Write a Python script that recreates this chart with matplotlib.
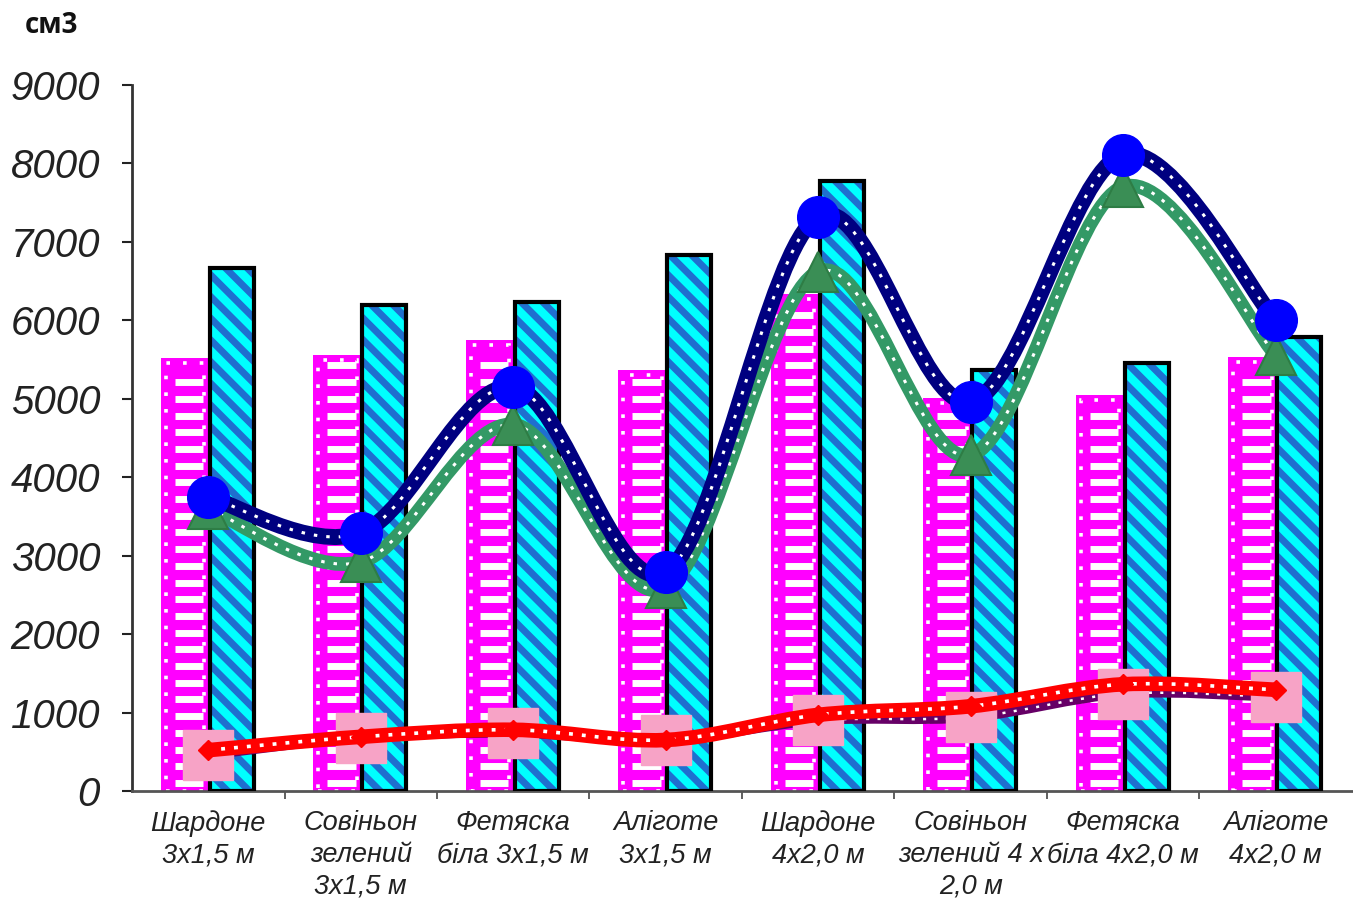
import numpy as np
import matplotlib
matplotlib.use("Agg")
import matplotlib.pyplot as plt
from matplotlib.path import Path
from matplotlib.patches import PathPatch, Rectangle
from matplotlib.collections import LineCollection

plt.rcParams['lines.scale_dashes'] = False

categories = [
    "Шардоне\n3x1,5 м",
    "Совіньон\nзелений\n3x1,5 м",
    "Фетяска\nбіла 3x1,5 м",
    "Аліготе\n3x1,5 м",
    "Шардоне\n4x2,0 м",
    "Совіньон\nзелений 4 x\n2,0 м",
    "Фетяска\nбіла 4x2,0 м",
    "Аліготе\n4x2,0 м",
]

bars_magenta = [5520, 5560, 5750, 5370, 6330, 5010, 5050, 5530]
bars_cyan = [6670, 6200, 6230, 6830, 7780, 5370, 5460, 5790]
line_blue = [3750, 3290, 5150, 2790, 7320, 4960, 8110, 6000]
line_green = [3600, 2920, 4670, 2590, 6620, 4280, 7700, 5560]
line_red = [520, 690, 780, 650, 970, 1080, 1360, 1290]
line_pink = [460, 680, 740, 650, 900, 940, 1240, 1200]

y_ticks = list(range(0, 9001, 1000))
unit_label = "см3"


def smooth_path(xs, ys):
    """Smoothed polyline through the points (cubic Bezier, Catmull-Rom style)."""
    pts = np.column_stack([xs, ys]).astype(float)
    n = len(pts)
    verts = [pts[0]]
    codes = [Path.MOVETO]
    for i in range(n - 1):
        p0 = pts[i - 1] if i > 0 else pts[i]
        p1 = pts[i]
        p2 = pts[i + 1]
        p3 = pts[i + 2] if i + 2 < n else pts[i + 1]
        c1 = p1 + (p2 - p0) / 6.0
        c2 = p2 - (p3 - p1) / 6.0
        verts += [c1, c2, p2]
        codes += [Path.CURVE4] * 3
    return Path(verts, codes)


def dotted_curve(ax, xs, ys, color, lw, z, dot_lw=2.2, dots=(0, (2.5, 6.5))):
    path = smooth_path(xs, ys)
    ax.add_patch(PathPatch(path, facecolor='none', edgecolor=color, lw=lw,
                           capstyle='round', joinstyle='round', zorder=z))
    ax.add_patch(PathPatch(path, facecolor='none', edgecolor='white', lw=dot_lw,
                           linestyle=dots, capstyle='butt', zorder=z + 0.1))


fig = plt.figure(figsize=(13.53, 8.98), dpi=100)
ax = fig.add_axes([0.0976, 0.1192, 0.9015, 0.7861])

x = np.arange(len(categories))
w = 0.31
off = 0.155

ax.set_xlim(-0.5, len(categories) - 0.5)
ax.set_ylim(0, 9000)

to_px = ax.transData
to_data = ax.transData.inverted()


def px_box(rect):
    (x0, y0) = to_px.transform((rect.get_x(), rect.get_y()))
    (x1, y1) = to_px.transform((rect.get_x() + rect.get_width(),
                                rect.get_y() + rect.get_height()))
    return x0, y0, x1, y1


def segs_to_data(segs):
    return [to_data.transform(np.array(s)) for s in segs]


# magenta bars: white horizontal dashes and a dotted white rim
mag = ax.bar(x - off, bars_magenta, width=w, color='#FF00FF', linewidth=0, zorder=2)
for rect in mag:
    x0, y0, x1, y1 = px_box(rect)
    segs = []
    yy = y0 + 8.0
    while yy < y1 - 9:
        segs.append([(x0 + 14, yy), (x1 - 5, yy)])
        yy += 16.7
    ax.add_collection(LineCollection(segs_to_data(segs), colors='white',
                                     linewidths=5.0, zorder=2.1, capstyle='butt'))
    (ix0, iy0) = to_data.transform((x0 + 5, y0))
    (ix1, iy1) = to_data.transform((x1 - 4, y1 - 5))
    ax.add_patch(Rectangle((ix0, iy0), ix1 - ix0, iy1 - iy0, facecolor='none',
                           edgecolor='white', lw=2.6, linestyle=(0, (2.6, 9.4)),
                           zorder=2.2))

# cyan bars: blue diagonal stripes and black outline
cya = ax.bar(x + off, bars_cyan, width=w * 0.93, color='#00FFFF', linewidth=0,
             zorder=3)
for rect in cya:
    x0, y0, x1, y1 = px_box(rect)
    span = x1 - x0
    segs = []
    c = y0 - 4.0
    while c < y1 + span + 20:
        segs.append([(x0 - 5, c + 5), (x1 + 5, c - span - 5)])
        c += 21.7
    lc = LineCollection(segs_to_data(segs), colors='#1F6FCF', linewidths=5.0,
                        zorder=3.1)
    ax.add_collection(lc)
    lc.set_clip_path(rect)
ax.bar(x + off, bars_cyan, width=w * 0.93, color='none', edgecolor='black',
       linewidth=3.0, zorder=3.2)

# purple series with pink squares
dotted_curve(ax, x, line_pink, '#660066', 7, 4, dot_lw=1.8, dots=(0, (2.2, 6)))
ax.plot(x, line_pink, linestyle='none', marker='s', markersize=36,
        markerfacecolor='#F7A3C6', markeredgecolor='#F7A3C6', zorder=5)

# red series with diamonds
dotted_curve(ax, x, line_red, '#FF0000', 10.5, 6, dot_lw=2.6, dots=(0, (2.8, 6.5)))
ax.plot(x, line_red, linestyle='none', marker='D', markersize=10,
        markerfacecolor='#FF0000', markeredgecolor='#FF0000', zorder=7)

# green series with triangles
dotted_curve(ax, x, line_green, '#339966', 10, 8)
ax.plot(x, line_green, linestyle='none', marker='^', markersize=29,
        markerfacecolor='#3A8E55', markeredgecolor='#2E7D45', markeredgewidth=1.5,
        zorder=9)

# navy series with blue circles
dotted_curve(ax, x, line_blue, '#000080', 11.5, 10)
ax.plot(x, line_blue, linestyle='none', marker='o', markersize=30,
        markerfacecolor='#0000FF', markeredgecolor='#0000FF', zorder=11)

ax.set_yticks(y_ticks)
ax.set_yticklabels([str(v) for v in y_ticks], fontsize=29, style='italic',
                   family=['Liberation Sans', 'DejaVu Sans'])
ax.tick_params(axis='y', direction='out', length=7, width=1.5, pad=16,
               colors='#222222')

ax.set_xticks(x)
ax.set_xticklabels(categories, fontsize=19.5, style='italic',
                   family=['Liberation Sans', 'DejaVu Sans'], linespacing=1.28,
                   va='top', ha='center')
ax.set_xticks(np.arange(0.5, len(categories) - 0.5, 1.0), minor=True)
ax.tick_params(axis='x', which='major', length=0, pad=14, colors='#222222')
ax.tick_params(axis='x', which='minor', direction='out', length=6, width=1.2,
               colors='#444444')

for side in ('top', 'right'):
    ax.spines[side].set_visible(False)
ax.spines['left'].set_linewidth(2.0)
ax.spines['left'].set_color('#333333')
ax.spines['bottom'].set_linewidth(2.0)
ax.spines['bottom'].set_color('#555555')

fig.text(0.018, 0.972, unit_label, fontsize=20, fontweight='bold',
         family=['Open Sans', 'DejaVu Sans'], ha='left', va='center', color='#111111')

fig.savefig("out.png", dpi=100)
